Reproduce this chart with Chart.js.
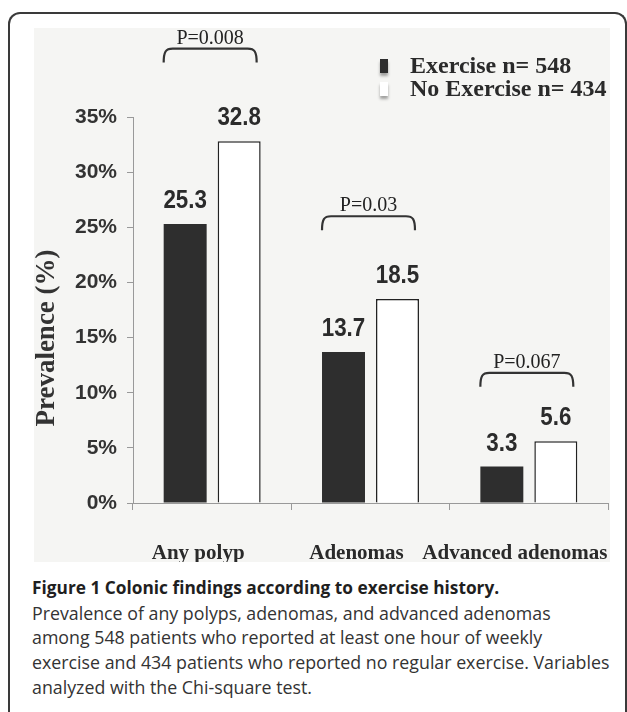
<!DOCTYPE html>
<html>
<head>
<meta charset="utf-8">
<script src="https://cdn.jsdelivr.net/npm/chart.js@4.4.0/dist/chart.umd.min.js"></script>
<style>
  html, body { margin: 0; padding: 0; background: #fff; }
  body { width: 627px; height: 712px; overflow: hidden; position: relative; }
  .frame {
    position: absolute; left: 8px; top: 12px; width: 615px; height: 730px;
    border: 2px solid #3a3a3a; border-bottom: none; border-radius: 12px 12px 0 0;
  }
  .plot { position: absolute; left: 34px; top: 28px; width: 576px; height: 534px; background: #f5f5f3; }
  .caption {
    position: absolute; left: 32px; top: 575px;
    font-family: "Open Sans", "Noto Sans", sans-serif; font-size: 17.8px; line-height: 24.7px;
    color: #333; white-space: nowrap;
  }
  .caption b { color: #1f1f1f; font-weight: 700; font-size: 17.3px; }
</style>
</head>
<body>
<div class="frame"></div>
<div class="plot"><canvas id="prevChart" width="576" height="534"></canvas></div>
<div class="caption">
  <div><b>Figure 1 Colonic findings according to exercise history.</b></div>
  <div>Prevalence of any polyps, adenomas, and advanced adenomas</div>
  <div>among 548 patients who reported at least one hour of weekly</div>
  <div>exercise and 434 patients who reported no regular exercise. Variables</div>
  <div>analyzed with the Chi-square test.</div>
</div>
<script>
// Data
const categories = ['Any polyp', 'Adenomas', 'Advanced adenomas'];
const exercise = [25.3, 13.7, 3.3];
const noExercise = [32.8, 18.5, 5.6];
const seriesLabels = ['Exercise n= 548', 'No Exercise n= 434'];
const yTickValues = [0, 5, 10, 15, 20, 25, 30, 35];
const pValues = ['P=0.008', 'P=0.03', 'P=0.067'];
const pLevels = [41.2, 26.0, 11.8];   // height of each bracket, in % units

const DARK = '#2e2e2e';

// value labels, p-value brackets, legend and y title
const figureExtras = {
  id: 'figureExtras',
  afterDatasetsDraw(chart) {
    const ctx = chart.ctx;
    const y = chart.scales.y;

    chart.data.datasets.forEach((ds, di) => {
      chart.getDatasetMeta(di).data.forEach((bar, i) => {
        ctx.save();
        ctx.translate(bar.x, bar.y - 16);
        ctx.scale(0.86, 1);
        ctx.font = 'bold 26px "Liberation Sans", Arial, sans-serif';
        ctx.fillStyle = '#2b2b2b';
        ctx.textAlign = 'center';
        ctx.textBaseline = 'alphabetic';
        ctx.fillText(ds.data[i].toFixed(1), 0, 0);
        ctx.restore();
      });
    });

    const m0 = chart.getDatasetMeta(0);
    const m1 = chart.getDatasetMeta(1);
    pValues.forEach((txt, i) => {
      const x0 = m0.data[i].x - m0.data[i].width / 2;
      const x1 = m1.data[i].x + m1.data[i].width / 2 - 4;
      const top = y.getPixelForValue(pLevels[i]);
      const h = 14, r = 9;
      ctx.save();
      ctx.strokeStyle = '#333';
      ctx.lineWidth = 2.2;
      ctx.beginPath();
      ctx.moveTo(x0, top + h);
      ctx.bezierCurveTo(x0, top + 3, x0 + 2, top, x0 + r, top);
      ctx.lineTo(x1 - r, top);
      ctx.bezierCurveTo(x1 - 2, top, x1, top + 3, x1, top + h);
      ctx.stroke();
      ctx.font = '20px "Liberation Serif", "Times New Roman", serif';
      ctx.fillStyle = '#222';
      ctx.textAlign = 'center';
      ctx.textBaseline = 'alphabetic';
      ctx.fillText(txt, (x0 + x1) / 2, top - 5);
      ctx.restore();
    });

    // legend
    const boxFills = [DARK, '#ffffff'];
    seriesLabels.forEach((label, i) => {
      const by = 31 + i * 23;
      ctx.save();
      ctx.shadowColor = 'rgba(0,0,0,0.35)';
      ctx.shadowBlur = 3;
      ctx.shadowOffsetY = 3;
      ctx.fillStyle = boxFills[i];
      ctx.fillRect(346, by, 8, 14);
      ctx.restore();
      ctx.save();
      ctx.font = 'bold 24px "Liberation Serif", "Times New Roman", serif';
      ctx.fillStyle = '#2a2a2a';
      ctx.textAlign = 'left';
      ctx.textBaseline = 'alphabetic';
      ctx.fillText(label, 376, by + 14);
      ctx.restore();
    });

    // y axis title, sits a little below the axis centre in the original
    ctx.save();
    ctx.translate(13, 310);
    ctx.rotate(-Math.PI / 2);
    ctx.font = 'bold 27px "Liberation Serif", "Times New Roman", serif';
    ctx.fillStyle = '#333';
    ctx.textAlign = 'center';
    ctx.textBaseline = 'middle';
    ctx.fillText('Prevalence (%)', 0, 0);
    ctx.restore();
  }
};

new Chart(document.getElementById('prevChart'), {
  type: 'bar',
  data: {
    labels: categories,
    datasets: [
      {
        label: seriesLabels[0],
        data: exercise,
        backgroundColor: DARK,
        borderColor: DARK,
        borderWidth: 0
      },
      {
        label: seriesLabels[1],
        data: noExercise,
        backgroundColor: '#ffffff',
        borderColor: '#222',
        borderWidth: 1.5
      }
    ]
  },
  options: {
    responsive: false,
    animation: false,
    categoryPercentage: 0.682,
    barPercentage: 0.796,
    layout: { padding: { top: 89, right: 2, left: 0, bottom: 0 } },
    plugins: {
      legend: { display: false },
      tooltip: { enabled: false }
    },
    scales: {
      x: {
        grid: { offset: true, drawOnChartArea: false, tickLength: 7, color: '#999' },
        border: { color: '#999', width: 1 },
        ticks: {
          autoSkip: false,
          maxRotation: 0,
          padding: 31,
          labelOffset: -14,
          color: '#2a2a2a',
          font: { family: '"Liberation Serif", "Times New Roman", serif', size: 21, weight: 'bold' }
        },
        afterFit(s) { s.height = 59; s.paddingLeft = 0; s.paddingRight = 0; }
      },
      y: {
        min: 0,
        max: 35,
        grid: { drawOnChartArea: false, tickLength: 6, color: '#999' },
        border: { color: '#999', width: 1 },
        afterBuildTicks(s) { s.ticks = yTickValues.map(v => ({ value: v })); },
        ticks: {
          padding: 10,
          color: '#333',
          font: { family: '"Liberation Sans", Arial, sans-serif', size: 21, weight: 'bold' },
          callback: v => v + '%'
        },
        afterFit(s) { s.width = 99; }
      }
    }
  },
  plugins: [figureExtras]
});
</script>
</body>
</html>
